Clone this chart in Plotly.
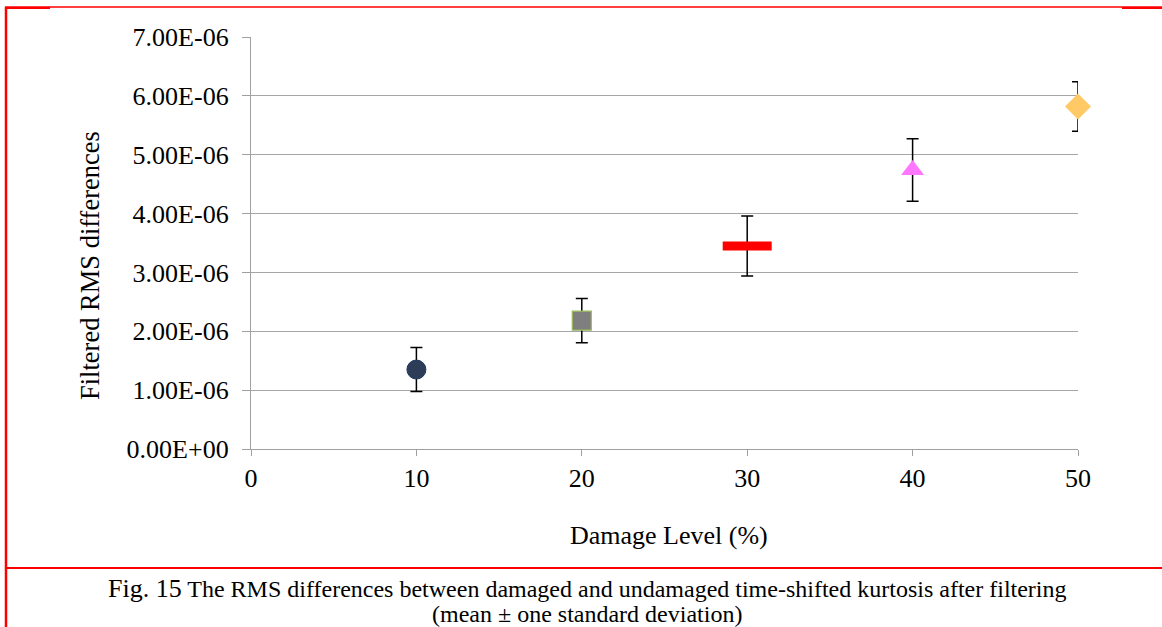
import plotly.graph_objects as go

damage = [10, 20, 30, 40, 50]
mean_rms = [1.35e-6, 2.18e-6, 3.45e-6, 4.74e-6, 5.82e-6]
std_rms = [0.375e-6, 0.375e-6, 0.51e-6, 0.53e-6, 0.42e-6]
symbols = ["circle", "square", "line-ew", "triangle-up", "diamond"]
fill_colors = ["#2e3d57", "#7f7f7f", "#ff0000", "#ff77ff", "#ffc966"]
edge_colors = ["#1f3864", "#9bbb59", "#ff0000", "#ff77ff", "#ffc966"]
sizes = [19, 19, 35, 20, 20]
edge_widths = [1, 1.2, 9, 0, 0]

y_tickvals = [0, 1e-6, 2e-6, 3e-6, 4e-6, 5e-6, 6e-6, 7e-6]
y_ticktext = ["0.00E+00", "1.00E-06", "2.00E-06", "3.00E-06",
              "4.00E-06", "5.00E-06", "6.00E-06", "7.00E-06"]
x_tickvals = [0, 10, 20, 30, 40, 50]

W, H = 1162, 627
L, R, T, B = 251, 84, 37, 178
PW, PH = W - L - R, H - T - B

def px(x):
    return (x - L) / PW

def py(y):
    return (H - B - y) / PH

FONT = "Liberation Serif, Times New Roman, serif"

fig = go.Figure()
for i in range(len(damage)):
    fig.add_trace(go.Scatter(
        x=[damage[i]], y=[mean_rms[i]], mode="markers",
        marker=dict(symbol=symbols[i], size=sizes[i], color=fill_colors[i],
                    line=dict(color=edge_colors[i], width=edge_widths[i])),
        error_y=dict(type="data", array=[std_rms[i]], visible=True,
                     color="black", thickness=1.5, width=6),
        showlegend=False, cliponaxis=False,
    ))

fig.update_layout(
    width=W, height=H,
    margin=dict(l=L, r=R, t=T, b=B, pad=0),
    paper_bgcolor="white", plot_bgcolor="white",
    font=dict(family=FONT, color="black", size=24),
    xaxis=dict(range=[0, 50], tickvals=x_tickvals, showgrid=False,
               showline=True, linecolor="#a0a0a0", linewidth=1.3,
               ticks="outside", ticklen=6, tickcolor="#a0a0a0",
               tickfont=dict(size=26), zeroline=False),
    yaxis=dict(range=[0, 7e-6], tickvals=y_tickvals, ticktext=y_ticktext,
               showgrid=True, gridcolor="#a6a6a6", gridwidth=1.3,
               showline=True, linecolor="#a0a0a0", linewidth=1.3,
               ticks="outside", ticklen=8, tickcolor="#a0a0a0",
               ticklabelstandoff=8,
               tickfont=dict(size=26), zeroline=False),
)

annotations = [
    dict(text="Filtered RMS differences", x=px(90), y=py(266), textangle=-90,
         font=dict(size=26.5)),
    dict(text="Damage Level (%)", x=px(669), y=py(535), font=dict(size=26)),
    dict(text="<span style='font-size:26px'>Fig. 15</span> The RMS differences between damaged and undamaged time-shifted kurtosis after filtering",
         x=px(587), y=py(588), font=dict(size=24)),
    dict(text="(mean \u00b1 one standard deviation)", x=px(587), y=py(614),
         font=dict(size=24)),
]
for a in annotations:
    fig.add_annotation(xref="paper", yref="paper", showarrow=False,
                       xanchor="center", yanchor="middle", **a)

red = "#ff0000"
lines = [
    (5, 7, 1162, 7, 1.5),
    (6, 7, 6, 627, 2.5),
    (5, 568, 1162, 568, 2),
    (6, 8, 50, 8, 2),
    (1122, 8, 1162, 8, 2),
]
for x0, y0, x1, y1, w in lines:
    fig.add_shape(type="line", xref="paper", yref="paper",
                  x0=px(x0), y0=py(y0), x1=px(x1), y1=py(y1),
                  line=dict(color=red, width=w))

fig.write_html("out.html", config={"displayModeBar": False},
               post_script="document.body.style.margin='0';document.body.style.overflow='hidden';")
